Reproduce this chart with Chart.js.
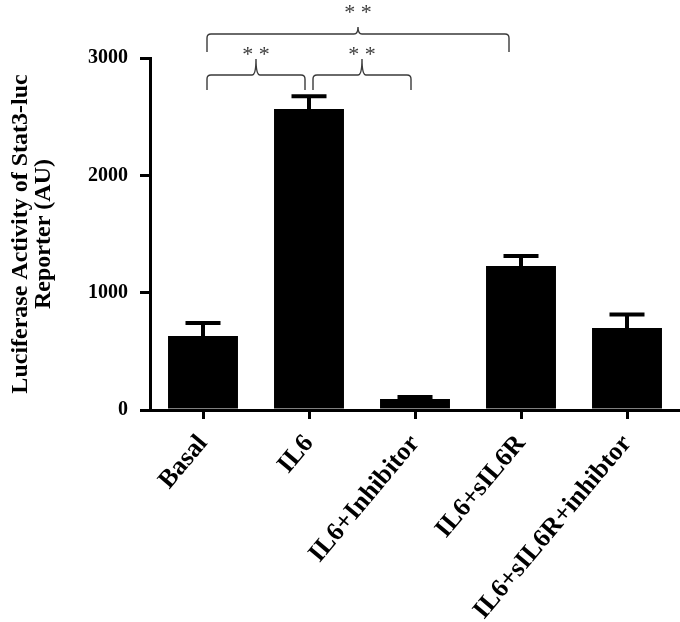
<!DOCTYPE html>
<html>
<head>
<meta charset="utf-8">
<script src="https://cdn.jsdelivr.net/npm/chart.js@4"></script>
<style>
    body { margin: 0; background: #fff; }
    #wrap { width: 680px; height: 622px; }
</style>
</head>
<body>
<div id="wrap"><canvas id="chart" width="680" height="622"></canvas></div>
<script>
(function () {
    "use strict";

    // Data
    const groups = ["Basal", "IL6", "IL6+Inhibitor", "IL6+sIL6R", "IL6+sIL6R+inhibtor"];
    const luciferase = [630, 2565, 94, 1227, 699];
    const sem = [112, 110, 17, 85, 115];
    const yTicks = [0, 1000, 2000, 3000];

    // Significance brackets: group index pairs + label
    const bracketFrom = [0, 1, 0];
    const bracketTo = [1, 2, 3];
    const bracketLabel = ["**", "**", "**"];

    const serif = "'Liberation Serif', 'Times New Roman', serif";

    function brace(ctx, x1, x2, y, drop, rise) {
        const xm = (x1 + x2) / 2;
        const r = 4;
        ctx.beginPath();
        ctx.moveTo(x1, y + drop);
        ctx.lineTo(x1, y + r);
        ctx.quadraticCurveTo(x1, y, x1 + r, y);
        ctx.lineTo(xm - 4, y);
        ctx.quadraticCurveTo(xm, y, xm, y - rise);
        ctx.moveTo(xm, y - rise);
        ctx.quadraticCurveTo(xm, y, xm + 4, y);
        ctx.lineTo(x2 - r, y);
        ctx.quadraticCurveTo(x2, y, x2, y + r);
        ctx.lineTo(x2, y + drop);
        ctx.stroke();
    }

    const extras = {
        id: "extras",
        afterDatasetsDraw(chart) {
            const ctx = chart.ctx;
            const x = chart.scales.x;
            const y = chart.scales.y;

            // error bars (upper only)
            ctx.save();
            ctx.strokeStyle = "#000";
            ctx.lineWidth = 4;
            luciferase.forEach((v, i) => {
                const cx = x.getPixelForValue(i);
                const top = y.getPixelForValue(v);
                const hi = y.getPixelForValue(v + sem[i]);
                ctx.beginPath();
                ctx.moveTo(cx, top);
                ctx.lineTo(cx, hi);
                ctx.moveTo(cx - 17.5, hi);
                ctx.lineTo(cx + 17.5, hi);
                ctx.stroke();
            });

            // brackets
            ctx.strokeStyle = "#3a3a3a";
            ctx.lineWidth = 1.4;
            ctx.fillStyle = "#3a3a3a";
            ctx.font = "22px " + serif;
            ctx.textAlign = "center";
            ctx.textBaseline = "alphabetic";
            bracketFrom.forEach((a, k) => {
                const b = bracketTo[k];
                const wide = b - a > 1;
                const x1 = x.getPixelForValue(a) + 4;
                const x2 = x.getPixelForValue(b) - (wide ? 12 : 4);
                const by = wide ? 34 : 75;
                brace(ctx, x1, x2, by, wide ? 18 : 15, wide ? 7 : 16);
                ctx.fillText(bracketLabel[k].split("").join(" "), (x1 + x2) / 2, wide ? 19 : 61);
            });
            ctx.restore();
        }
    };

    new Chart(document.getElementById("chart"), {
        type: "bar",
        data: {
            labels: groups,
            datasets: [
                {
                    data: luciferase,
                    backgroundColor: "#000",
                    borderWidth: 0,
                    categoryPercentage: 1,
                    barPercentage: 0.66,
                },
            ],
        },
        options: {
            responsive: false,
            animation: false,
            layout: {
                padding: { top: 58, left: 0, right: 0, bottom: 0 },
            },
            plugins: {
                legend: { display: false },
                tooltip: { enabled: false },
            },
            scales: {
                x: {
                    afterFit(scale) {
                        scale.height = 212;
                    },
                    grid: {
                        display: true,
                        offset: false,
                        drawOnChartArea: false,
                        drawTicks: true,
                        tickLength: 9,
                        lineWidth: 3,
                        color: "#000",
                    },
                    border: { display: true, color: "#000", width: 3 },
                    ticks: {
                        minRotation: 50,
                        maxRotation: 50,
                        padding: 10,
                        color: "#000",
                        font: { family: serif, size: 26, weight: "bold" },
                    },
                },
                y: {
                    min: 0,
                    max: 3000,
                    afterFit(scale) {
                        scale.width = 150;
                    },
                    afterBuildTicks(scale) {
                        scale.ticks = yTicks.map((v) => ({ value: v }));
                    },
                    grid: {
                        display: true,
                        drawOnChartArea: false,
                        drawTicks: true,
                        tickLength: 10,
                        lineWidth: 3,
                        color: "#000",
                    },
                    border: { display: true, color: "#000", width: 3 },
                    ticks: {
                        padding: 12,
                        color: "#000",
                        font: { family: serif, size: 20, weight: "bold" },
                        callback: (v) => String(v),
                    },
                    title: {
                        display: true,
                        text: ["Luciferase Activity of Stat3-luc", "Reporter (AU)"],
                        color: "#000",
                        padding: { top: 9, bottom: 0 },
                        font: { family: serif, size: 24, weight: "bold", lineHeight: 0.96 },
                    },
                },
            },
        },
        plugins: [extras],
    });
})();
</script>
</body>
</html>
